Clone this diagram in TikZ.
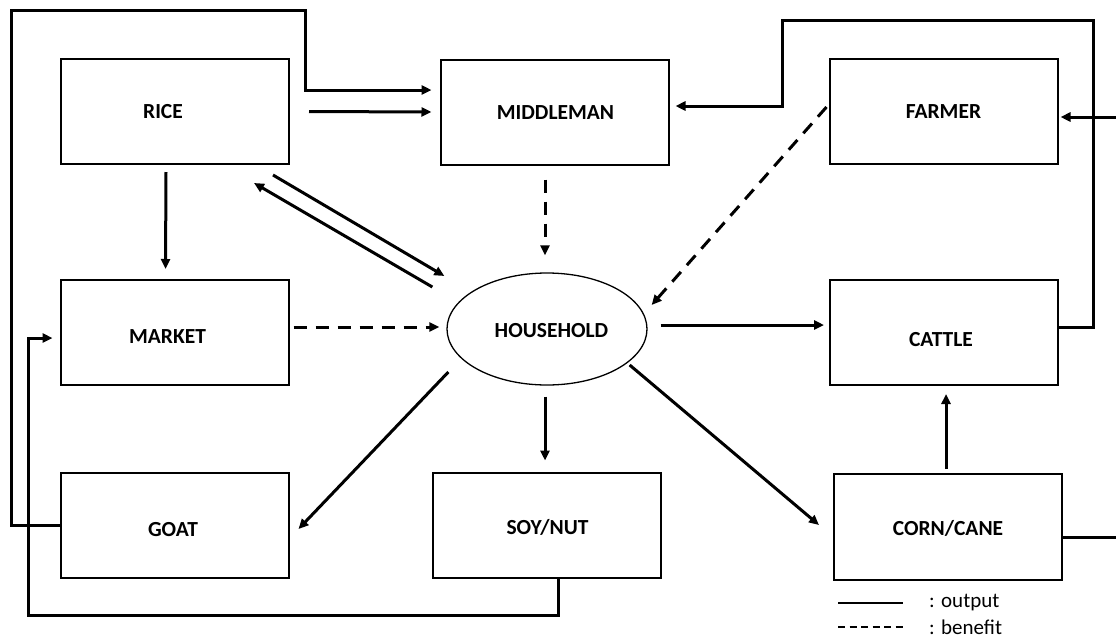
\documentclass[tikz,border=0pt]{standalone}
\usepackage{fontspec}
\setmainfont{Carlito}
\usetikzlibrary{arrows.meta,shapes.geometric}
\begin{document}
\begin{tikzpicture}[x=1pt,y=-1pt]
    \tikzstyle{box}=[draw,line width=2pt,minimum width=228pt,minimum height=105pt,inner sep=0pt]
    \tikzstyle{hh}=[draw,ellipse,line width=1.3pt,minimum width=200pt,minimum height=112pt,inner sep=0pt]
    \tikzstyle{tag}=[inner sep=0pt,font=\fontsize{21.5}{25}\selectfont\bfseries]
    \tikzstyle{flow}=[line width=3pt,-{Triangle[length=10pt,width=9pt]}]
    \tikzstyle{gain}=[flow,dash pattern=on 13pt off 9pt]
    \tikzstyle{key}=[anchor=west,inner sep=0pt,font=\fontsize{21}{24}\selectfont]
    \useasboundingbox (0,0) rectangle (1116,638);
    \clip (0,0) rectangle (1116,638);
    % boxes
    \node[box,label={[tag,shift={(-12,0)}]center:RICE}] (rice) at (175,111.5) {};
    \node[box,label={[tag,shift={(1,0.5)}]center:MIDDLEMAN}] (middleman) at (554.5,112) {};
    \node[box,label={[tag]center:FARMER}] (farmer) at (943.5,111.5) {};
    \node[box,label={[tag,shift={(-7,4.5)}]center:MARKET}] (market) at (174.5,332.5) {};
    \node[hh,label={[tag,shift={(4.5,1.5)}]center:HOUSEHOLD}] (household) at (547,329) {};
    \node[box,label={[tag,shift={(-3,7.5)}]center:CATTLE}] (cattle) at (944,332.5) {};
    \node[box,label={[tag,shift={(-1.5,4.5)}]center:GOAT}] (goat) at (174.5,525.5) {};
    \node[box,label={[tag,shift={(1,2.5)}]center:SOY/NUT}] (soy) at (546.5,525) {};
    \node[box,minimum height=106pt,label={[tag,shift={(0,1)}]center:CORN/CANE}] (corn) at (948,527) {};
    \coordinate (tl) at (11,10);
    \coordinate (tr) at (1093,20);
    \coordinate (bl) at (28,338);
    % outputs
    \draw[flow] (goat.west) -| (tl) -| (305,90) -- ([xshift=-8pt,yshift=22pt]middleman.west);
    \draw[flow] ([xshift=19pt]rice.east) -- ([xshift=-8pt]middleman.west);
    \draw[flow] ([yshift=5pt]cattle.east) -| (tr) -| (782,106) -- ([xshift=6pt,yshift=6pt]middleman.east);
    \draw[flow] ([yshift=-10pt]corn.east) -- ++(70,0) |- ([xshift=2pt,yshift=-5.5pt]farmer.east);
    \draw[flow] ([xshift=-9pt,yshift=-7pt]rice.south) -- ([xshift=-9pt,yshift=10pt]market.north);
    \draw[flow] ([xshift=-17pt,yshift=-10pt]rice.south east) -- ([xshift=-2pt,yshift=53pt]household.west);
    \draw[flow] ([xshift=-14pt,yshift=42pt]household.west) -- ([xshift=-36pt,yshift=-18pt]rice.south east);
    \draw[flow] ([xshift=13pt,yshift=4pt]household.east) -- ([xshift=-5pt,yshift=7.5pt]cattle.west);
    \draw[flow] ([xshift=2pt,yshift=-43pt]household.west) -- ([xshift=9pt,yshift=-3.5pt]goat.east);
    \draw[flow] ([xshift=-2pt,yshift=-11pt]household.south) -- ([xshift=-1.5pt,yshift=11pt]soy.north);
    \draw[flow] ([xshift=-18pt,yshift=-36pt]household.east) -- ([xshift=-14pt,yshift=2pt]corn.west);
    \draw[flow] ([xshift=-2pt,yshift=4pt]corn.north) -- ([xshift=2pt,yshift=-8pt]cattle.south);
    \draw[flow] ([xshift=11.5pt]soy.south) -- ++(0,37) -| (bl) -- ([xshift=-7pt,yshift=-5.5pt]market.west);
    % benefits
    \draw[gain] ([xshift=-9.5pt,yshift=-14pt]middleman.south) -- ([xshift=-2pt,yshift=17pt]household.north);
    \draw[gain] ([xshift=4pt,yshift=5.5pt]market.east) -- ([xshift=-7pt,yshift=2pt]household.west);
    \draw[gain] ([xshift=-2pt,yshift=4.5pt]farmer.west) -- ([xshift=4pt,yshift=24pt]household.east);
    % legend
    \draw[line width=1.3pt] (838,603) -- (903,603);
    \draw[line width=1.3pt,dash pattern=on 7pt off 4.5pt] (838,627) -- (906,627);
    \node[key] (outkey) at (929,603) {: output};
    \node[key] (gainkey) at (929,627) {: benefit};
\end{tikzpicture}
\end{document}
